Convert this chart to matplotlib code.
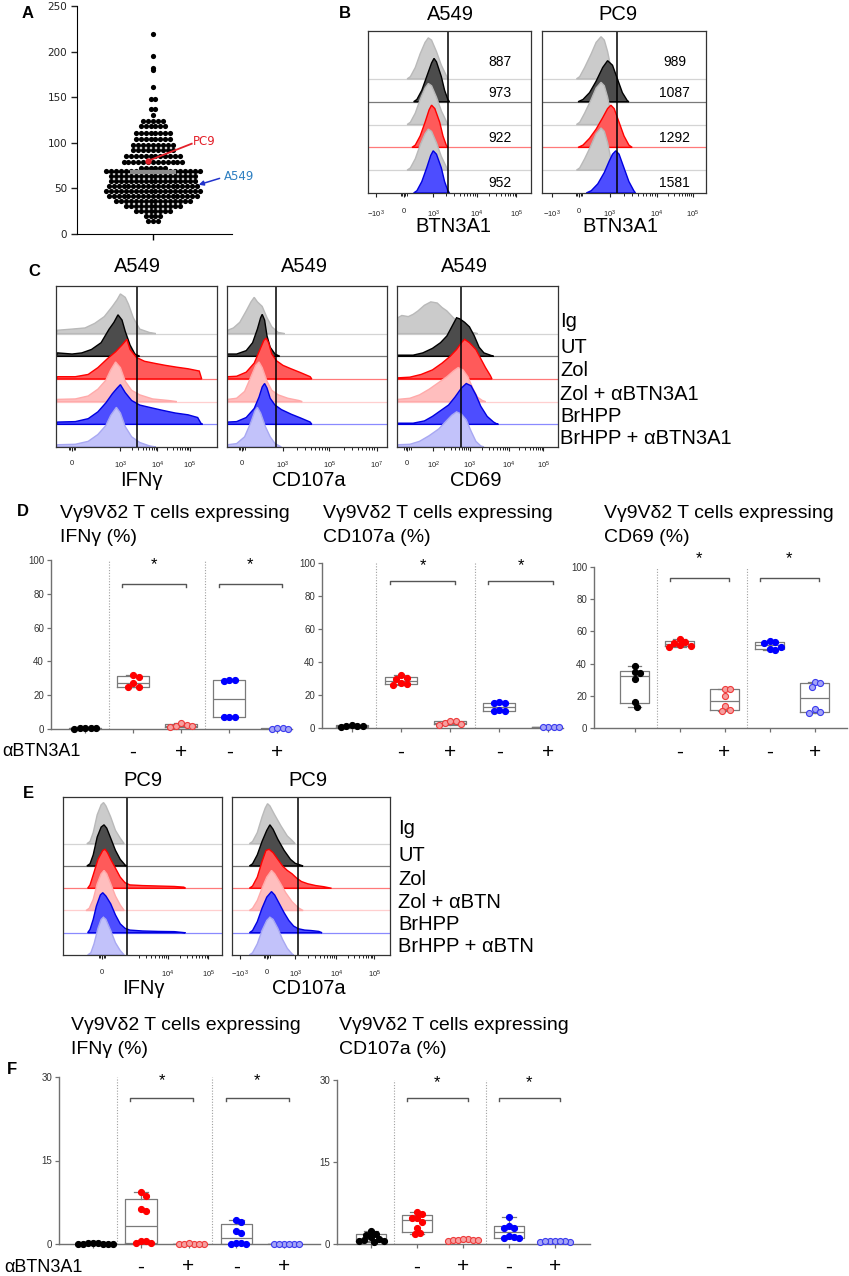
import numpy as np
import matplotlib
matplotlib.use("Agg")
import matplotlib.pyplot as plt
from matplotlib.transforms import blended_transform_factory

W, H = 849, 1276
plt.rcParams['font.family'] = ['Liberation Sans', 'DejaVu Sans']
plt.rcParams['mathtext.fontset'] = 'custom'
plt.rcParams['mathtext.rm'] = 'Liberation Sans'
plt.rcParams['mathtext.it'] = 'Liberation Sans:italic'
plt.rcParams['mathtext.bf'] = 'Liberation Sans:bold'

# ======================= DATA =======================
# Panel A: BTN3A1 expression over cell lines (row value, number of dots)
A_ROW_VALUES = [219, 195, 182, 180, 161, 148, 137, 131, 124, 118, 111, 104, 98, 92,
                86, 79, 72, 69, 64, 58, 53, 47, 42, 36, 31, 25, 20, 14]
A_ROW_COUNTS = [1, 1, 1, 1, 1, 2, 2, 1, 5, 6, 8, 8, 9, 9,
                12, 13, 6, 20, 18, 18, 19, 20, 19, 16, 12, 8, 4, 3]
A_PC9 = 80
A_A549 = 54

# Panel B: MFI values
B_A549_MFI = [887, 973, 922, 952]
B_PC9_MFI = [989, 1087, 1292, 1581]

# Histogram outlines: (x fraction of axis, height in row units)
B_A549_IG = [(0.24, 0), (0.26, 0.1), (0.29, 0.5), (0.32, 1.1), (0.35, 1.6), (0.37, 1.8), (0.39, 1.7), (0.42, 1.2), (0.45, 0.6), (0.48, 0.15), (0.49, 0)]
B_A549_UT = [(0.28, 0), (0.30, 0.1), (0.33, 0.5), (0.36, 1.1), (0.39, 1.7), (0.405, 1.9), (0.42, 1.75), (0.45, 1.1), (0.47, 0.5), (0.49, 0.1), (0.50, 0)]
B_A549_ZOL = [(0.27, 0), (0.29, 0.1), (0.32, 0.5), (0.35, 1.1), (0.375, 1.65), (0.39, 1.85), (0.41, 1.7), (0.44, 1.1), (0.46, 0.5), (0.48, 0.1), (0.49, 0)]
B_A549_BR = [(0.28, 0), (0.30, 0.1), (0.33, 0.5), (0.36, 1.1), (0.385, 1.65), (0.40, 1.85), (0.42, 1.7), (0.45, 1.1), (0.47, 0.5), (0.49, 0.1), (0.50, 0)]

B_PC9_IG = [(0.21, 0), (0.23, 0.1), (0.26, 0.5), (0.30, 1.1), (0.33, 1.6), (0.36, 1.85), (0.38, 1.7), (0.40, 1.2), (0.42, 0.5), (0.44, 0.1), (0.45, 0)]
B_PC9_UT = [(0.22, 0), (0.25, 0.1), (0.29, 0.4), (0.33, 0.9), (0.37, 1.5), (0.40, 1.8), (0.43, 1.6), (0.46, 1.0), (0.49, 0.4), (0.52, 0.05), (0.53, 0)]
B_PC9_ZOL = [(0.22, 0), (0.25, 0.1), (0.29, 0.4), (0.33, 0.8), (0.37, 1.3), (0.40, 1.7), (0.42, 1.85), (0.44, 1.7), (0.47, 1.1), (0.50, 0.5), (0.53, 0.1), (0.55, 0)]
B_PC9_BR = [(0.27, 0), (0.30, 0.1), (0.34, 0.4), (0.38, 0.9), (0.41, 1.4), (0.43, 1.7), (0.45, 1.85), (0.47, 1.7), (0.50, 1.1), (0.53, 0.5), (0.56, 0.1), (0.57, 0)]

C1_IG = [(0.0, 0), (0.01, 0.15), (0.10, 0.2), (0.18, 0.25), (0.24, 0.45), (0.30, 0.75), (0.35, 1.2), (0.38, 1.5), (0.40, 1.75), (0.43, 1.6), (0.45, 1.3), (0.48, 0.7), (0.52, 0.2), (0.58, 0.05), (0.62, 0)]
C1_UT = [(0.0, 0), (0.01, 0.15), (0.10, 0.1), (0.16, 0.15), (0.22, 0.3), (0.28, 0.6), (0.33, 1.2), (0.36, 1.5), (0.385, 1.83), (0.41, 1.6), (0.43, 1.1), (0.46, 0.5), (0.49, 0.1), (0.52, 0)]
C1_ZOL = [(0.0, 0), (0.01, 0.1), (0.12, 0.1), (0.20, 0.2), (0.26, 0.5), (0.32, 0.9), (0.37, 1.2), (0.41, 1.5), (0.44, 1.75), (0.46, 1.3), (0.50, 0.95), (0.55, 0.78), (0.62, 0.68), (0.68, 0.6), (0.75, 0.52), (0.82, 0.45), (0.89, 0.35), (0.905, 0)]
C1_ZOLA = [(0.0, 0), (0.01, 0.1), (0.12, 0.12), (0.20, 0.25), (0.26, 0.55), (0.31, 0.95), (0.34, 1.4), (0.37, 1.75), (0.40, 1.5), (0.43, 0.9), (0.47, 0.5), (0.52, 0.3), (0.60, 0.12), (0.70, 0.05), (0.75, 0)]
C1_BR = [(0.0, 0), (0.01, 0.1), (0.12, 0.12), (0.20, 0.25), (0.26, 0.55), (0.31, 0.95), (0.35, 1.35), (0.38, 1.6), (0.40, 1.75), (0.43, 1.4), (0.47, 1.05), (0.52, 0.85), (0.58, 0.75), (0.66, 0.62), (0.74, 0.5), (0.82, 0.42), (0.88, 0.3), (0.90, 0.05), (0.91, 0)]
C1_BRA = [(0.0, 0), (0.01, 0.1), (0.12, 0.12), (0.20, 0.25), (0.26, 0.55), (0.31, 0.95), (0.34, 1.4), (0.375, 1.75), (0.40, 1.5), (0.43, 0.9), (0.47, 0.45), (0.52, 0.2), (0.58, 0.05), (0.62, 0)]

C2_IG = [(0.0, 0), (0.005, 0.15), (0.04, 0.25), (0.08, 0.5), (0.12, 1.0), (0.15, 1.4), (0.17, 1.6), (0.19, 1.4), (0.22, 1.2), (0.25, 0.7), (0.28, 0.3), (0.32, 0.05), (0.36, 0)]
C2_UT = [(0.0, 0), (0.005, 0.1), (0.06, 0.1), (0.12, 0.25), (0.16, 0.6), (0.19, 1.2), (0.21, 1.7), (0.22, 1.85), (0.235, 1.6), (0.25, 0.9), (0.27, 0.4), (0.30, 0.1), (0.33, 0)]
C2_ZOL = [(0.0, 0), (0.005, 0.1), (0.06, 0.12), (0.12, 0.3), (0.17, 0.7), (0.20, 1.2), (0.23, 1.7), (0.245, 1.8), (0.26, 1.6), (0.28, 1.1), (0.31, 0.8), (0.35, 0.6), (0.40, 0.45), (0.46, 0.28), (0.52, 0.1), (0.53, 0)]
C2_ZOLA = [(0.0, 0), (0.005, 0.1), (0.06, 0.15), (0.11, 0.45), (0.15, 1.1), (0.18, 1.6), (0.20, 1.75), (0.22, 1.5), (0.25, 0.9), (0.28, 0.5), (0.32, 0.3), (0.38, 0.15), (0.45, 0.05), (0.47, 0)]
C2_BR = [(0.0, 0), (0.005, 0.1), (0.06, 0.12), (0.12, 0.3), (0.17, 0.7), (0.20, 1.2), (0.22, 1.65), (0.235, 1.8), (0.25, 1.6), (0.27, 1.15), (0.30, 0.85), (0.34, 0.65), (0.40, 0.45), (0.46, 0.28), (0.52, 0.1), (0.53, 0)]
C2_BRA = [(0.0, 0), (0.005, 0.1), (0.06, 0.15), (0.11, 0.45), (0.15, 1.1), (0.175, 1.6), (0.19, 1.75), (0.21, 1.5), (0.24, 0.9), (0.27, 0.45), (0.30, 0.15), (0.34, 0)]

C3_IG = [(0.0, 0), (0.005, 0.7), (0.03, 0.8), (0.07, 0.75), (0.10, 0.85), (0.13, 1.0), (0.17, 1.25), (0.21, 1.4), (0.25, 1.35), (0.28, 1.15), (0.31, 1.0), (0.35, 0.7), (0.39, 0.45), (0.43, 0.2), (0.47, 0.05), (0.50, 0)]
C3_UT = [(0.0, 0), (0.005, 0.05), (0.10, 0.05), (0.16, 0.15), (0.22, 0.35), (0.27, 0.6), (0.31, 0.9), (0.34, 1.3), (0.37, 1.7), (0.39, 1.65), (0.42, 1.5), (0.45, 1.3), (0.48, 0.9), (0.51, 0.4), (0.54, 0.15), (0.58, 0.05), (0.60, 0)]
C3_ZOL = [(0.0, 0), (0.005, 0.05), (0.08, 0.08), (0.15, 0.2), (0.22, 0.4), (0.28, 0.7), (0.33, 1.0), (0.37, 1.3), (0.40, 1.6), (0.42, 1.75), (0.45, 1.6), (0.49, 1.3), (0.52, 0.9), (0.55, 0.5), (0.58, 0.15), (0.59, 0)]
C3_ZOLA = [(0.0, 0), (0.005, 0.1), (0.08, 0.15), (0.14, 0.3), (0.20, 0.55), (0.26, 0.85), (0.31, 1.1), (0.35, 1.35), (0.38, 1.5), (0.41, 1.4), (0.44, 1.1), (0.47, 0.6), (0.50, 0.2), (0.53, 0.05), (0.55, 0)]
C3_BR = [(0.0, 0), (0.005, 0.05), (0.10, 0.05), (0.17, 0.15), (0.22, 0.35), (0.27, 0.6), (0.32, 0.85), (0.36, 1.2), (0.40, 1.6), (0.43, 1.8), (0.46, 1.7), (0.49, 1.3), (0.52, 0.8), (0.56, 0.35), (0.60, 0.1), (0.62, 0.02), (0.63, 0)]
C3_BRA = [(0.0, 0), (0.005, 0.1), (0.08, 0.12), (0.14, 0.25), (0.20, 0.5), (0.26, 0.8), (0.30, 1.1), (0.34, 1.4), (0.37, 1.55), (0.40, 1.45), (0.43, 1.2), (0.46, 0.7), (0.49, 0.25), (0.52, 0.05), (0.54, 0)]

E1_IG = [(0.15, 0), (0.17, 0.1), (0.19, 0.5), (0.215, 1.3), (0.24, 1.75), (0.255, 1.85), (0.27, 1.7), (0.30, 1.2), (0.33, 0.6), (0.36, 0.25), (0.385, 0)]
E1_UT = [(0.15, 0), (0.17, 0.1), (0.19, 0.5), (0.215, 1.3), (0.24, 1.75), (0.258, 1.85), (0.275, 1.7), (0.30, 1.25), (0.33, 0.7), (0.36, 0.3), (0.39, 0.05), (0.40, 0)]
E1_ZOL = [(0.155, 0), (0.17, 0.15), (0.19, 0.6), (0.22, 1.3), (0.25, 1.7), (0.265, 1.75), (0.28, 1.6), (0.30, 1.3), (0.33, 0.9), (0.36, 0.5), (0.39, 0.25), (0.42, 0.15), (0.50, 0.12), (0.60, 0.1), (0.70, 0.08), (0.76, 0.05), (0.77, 0)]
E1_ZOLA = [(0.145, 0), (0.165, 0.1), (0.19, 0.5), (0.215, 1.2), (0.24, 1.65), (0.258, 1.8), (0.275, 1.65), (0.30, 1.2), (0.33, 0.65), (0.36, 0.25), (0.385, 0)]
E1_BR = [(0.155, 0), (0.17, 0.15), (0.19, 0.6), (0.21, 1.2), (0.235, 1.7), (0.25, 1.8), (0.27, 1.65), (0.30, 1.3), (0.33, 0.8), (0.36, 0.4), (0.39, 0.2), (0.42, 0.12), (0.50, 0.08), (0.60, 0.06), (0.70, 0.05), (0.77, 0)]
E1_BRA = [(0.155, 0), (0.175, 0.1), (0.195, 0.5), (0.22, 1.2), (0.24, 1.6), (0.254, 1.7), (0.27, 1.6), (0.30, 1.1), (0.33, 0.55), (0.36, 0.2), (0.385, 0)]

E2_IG = [(0.11, 0), (0.13, 0.1), (0.16, 0.5), (0.19, 1.2), (0.21, 1.6), (0.225, 1.8), (0.24, 1.7), (0.27, 1.3), (0.31, 0.8), (0.35, 0.35), (0.38, 0.15), (0.40, 0)]
E2_UT = [(0.11, 0), (0.13, 0.1), (0.16, 0.5), (0.19, 1.1), (0.22, 1.6), (0.24, 1.85), (0.26, 1.65), (0.29, 1.2), (0.33, 0.7), (0.37, 0.3), (0.40, 0.12), (0.43, 0.05), (0.45, 0)]
E2_ZOL = [(0.11, 0), (0.13, 0.1), (0.16, 0.5), (0.19, 1.2), (0.215, 1.7), (0.235, 1.75), (0.26, 1.6), (0.29, 1.3), (0.32, 1.0), (0.35, 0.8), (0.38, 0.65), (0.41, 0.45), (0.44, 0.3), (0.48, 0.2), (0.53, 0.12), (0.58, 0.07), (0.63, 0)]
E2_ZOLA = [(0.11, 0), (0.13, 0.1), (0.16, 0.45), (0.19, 1.0), (0.22, 1.5), (0.25, 1.8), (0.27, 1.65), (0.30, 1.3), (0.34, 0.8), (0.38, 0.4), (0.42, 0.12), (0.45, 0)]
E2_BR = [(0.11, 0), (0.13, 0.1), (0.16, 0.5), (0.19, 1.1), (0.22, 1.6), (0.25, 1.85), (0.27, 1.7), (0.30, 1.3), (0.33, 0.9), (0.36, 0.55), (0.39, 0.3), (0.42, 0.18), (0.46, 0.12), (0.50, 0.1), (0.55, 0.06), (0.57, 0)]
E2_BRA = [(0.11, 0), (0.13, 0.1), (0.16, 0.5), (0.19, 1.1), (0.22, 1.55), (0.24, 1.7), (0.26, 1.6), (0.29, 1.2), (0.32, 0.7), (0.35, 0.3), (0.38, 0.05), (0.39, 0)]

# Panel D: % of Vg9Vd2 T cells (groups: UT, Zol, Zol+aBTN3A1, BrHPP, BrHPP+aBTN3A1)
D_IFNG_UT = [0.3, 0.5, 0.4, 0.6, 0.2]
D_IFNG_ZOL = [32, 31, 27, 25, 25]
D_IFNG_ZOLA = [1.2, 2.0, 2.6, 3.4, 1.6]
D_IFNG_BR = [29, 28.5, 29, 7, 7, 7]
D_IFNG_BRA = [0.2, 0.3, 0.2, 0.4]

D_CD107_UT = [1.0, 1.5, 0.8, 2.0, 1.2]
D_CD107_ZOL = [32.2, 30.6, 29.5, 27.5, 26.2, 26.8]
D_CD107_ZOLA = [2.0, 3.0, 4.0, 4.5, 2.5]
D_CD107_BR = [15.5, 15.1, 15.0, 11.0, 10.6, 10.2]
D_CD107_BRA = [0.5, 0.4, 0.6, 0.5]

D_CD69_UT = [38.5, 34.0, 34.5, 30.5, 16.0, 13.0]
D_CD69_ZOL = [55.5, 53.5, 53.0, 51.0, 50.5, 51.5]
D_CD69_ZOLA = [24.5, 24.0, 20.0, 13.5, 10.5, 11.0]
D_CD69_BR = [53.8, 53.2, 52.6, 50.5, 48.5, 49.0]
D_CD69_BRA = [28.5, 27.8, 25.5, 11.5, 10.0, 9.5]

# Panel F (PC9)
F_IFNG_UT = [0.1, 0.05, 0.0, 0.1, 0.05, 0.0, 0.1, 0.05]
F_IFNG_ZOL = [9.4, 8.7, 6.3, 6.0, 0.6, 0.1, 0.1, 0.5]
F_IFNG_ZOLA = [0.05, 0.0, 0.05, 0.1, 0.0, 0.05]
F_IFNG_BR = [4.3, 4.0, 2.3, 2.0, 0.1, 0.05, 0.05, 0.1]
F_IFNG_BRA = [0.0, 0.05, 0.0, 0.05, 0.0, 0.05]

F_CD107_UT = [2.4, 1.9, 1.7, 1.2, 1.0, 0.6, 0.5, 0.4, 0.8]
F_CD107_ZOL = [5.8, 5.5, 4.7, 4.7, 4.1, 2.9, 2.0, 1.8]
F_CD107_ZOLA = [0.6, 0.7, 0.8, 0.9, 1.0, 0.8, 0.7]
F_CD107_BR = [4.9, 3.3, 3.0, 2.9, 1.4, 1.3, 1.1, 1.1]
F_CD107_BRA = [0.4, 0.5, 0.5, 0.6, 0.4, 0.5, 0.6]

PM_LABELS = ['', '-', '+', '-', '+']
LEG_C = ['Ig', 'UT', 'Zol', 'Zol + αBTN3A1', 'BrHPP', 'BrHPP + αBTN3A1']
LEG_E = ['Ig', 'UT', 'Zol', 'Zol + αBTN', 'BrHPP', 'BrHPP + αBTN']

# ======================= FIGURE =======================
fig = plt.figure(figsize=(W / 100, H / 100), dpi=100)


def axpx(l, t, r, b):
    return fig.add_axes([l / W, 1 - b / H, (r - l) / W, (b - t) / H])


def ftext(x, y, s, **kw):
    kw.setdefault('va', 'center')
    kw.setdefault('ha', 'center')
    fig.text(x / W, 1 - y / H, s, **kw)


def letter(x, y, s):
    ftext(x, y, s, fontsize=12, fontweight='bold')


# ---------------- Panel A ----------------
axA = axpx(77, 6, 232, 234)
axA.set_xlim(-0.98, 1.02)
axA.set_ylim(0, 250)
T = axA.transData
sx = T.transform((1, 0))[0] - T.transform((0, 0))[0]
dx = 4.9 / sx
xs, ys = [], []
for v, c in zip(A_ROW_VALUES, A_ROW_COUNTS):
    offs = (np.arange(c) - (c - 1) / 2) * dx
    xs.extend(offs)
    ys.extend([v] * c)
axA.scatter(xs, ys, s=14, color='black', lw=0, zorder=3, clip_on=False)
mean_a = np.mean(ys)
axA.plot([-0.6, 0.6], [mean_a, mean_a], color='black', lw=1, zorder=2)
axA.plot([-0.3, 0.3], [mean_a, mean_a], color='#8c8c8c', lw=3, zorder=4, solid_capstyle='butt')
axA.plot([-0.07, 0.5], [A_PC9, 99], color='#e4202a', lw=1.3, zorder=6)
axA.plot([-0.07], [A_PC9], 'o', color='#e4202a', ms=3.5, zorder=6)
axA.text(0.52, 101, 'PC9', color='#e4202a', fontsize=8.5, ha='left', va='center', family='DejaVu Sans')
axA.annotate('', xy=(0.59, A_A549), xytext=(0.86, 61),
             arrowprops=dict(arrowstyle='-|>', color='#2233cc', lw=1.1, mutation_scale=7, shrinkA=0, shrinkB=0))
axA.text(0.92, 63.5, 'A549', color='#2d7fc1', fontsize=8.5, ha='left', va='center', family='DejaVu Sans')
axA.spines['top'].set_visible(False)
axA.spines['right'].set_visible(False)
axA.set_yticks([0, 50, 100, 150, 200, 250])
axA.set_xticks([0])
axA.set_xticklabels([''])
axA.tick_params(axis='y', labelsize=7.5, length=4, width=1, labelfontfamily='DejaVu Sans', pad=3, colors='#222')
axA.tick_params(axis='x', length=4, width=1)
letter(28, 14, 'A')

# ---------------- flow helpers ----------------
FC = {'ig': '#cbcbcb', 'ut': '#4c4c4c', 'zol': '#ff5a5a', 'zola': '#ffbebe', 'br': '#4d4dff', 'bra': '#c2c2fa'}
EC = {'ig': '#b9b9b9', 'ut': '#000000', 'zol': '#ff0000', 'zola': '#ffaaaa', 'br': '#0000e0', 'bra': '#a8a8f2'}
LC = {'ig': '#d4d4d4', 'ut': '#7a7a7a', 'zol': '#ff7a7a', 'zola': '#ffcfcf', 'br': '#8a8aff', 'bra': '#c4c4ff'}


def flow(box, shapes, keys, gate, ticks, labels, decades, zero, pad):
    ax = axpx(*box)
    n = len(shapes)
    ax.set_xlim(0, 1)
    ax.set_ylim(0, 7.1)
    for i, (shp, k) in enumerate(zip(shapes, keys)):
        base = n - 1 - i
        px = [p[0] for p in shp]
        py = [base + p[1] for p in shp]
        if base > 0:
            ax.axhline(base, color=LC[k], lw=0.9, zorder=2 * i + 1)
        ax.fill(px, py, facecolor=FC[k], edgecolor=EC[k], lw=1.0, zorder=2 * i + 2)
    ax.axvline(gate, color='black', lw=1.1, zorder=60)
    ax.set_yticks([])
    ax.set_xticks(ticks)
    ax.set_xticklabels(labels)
    minor = []
    for a, b in zip(decades[:-1], decades[1:]):
        minor += [a + (b - a) * np.log10(k) for k in range(2, 10)]
    minor += [zero - 0.02, zero - 0.01, zero + 0.01, zero + 0.02]
    ax.set_xticks(minor, minor=True)
    ax.tick_params(axis='x', which='major', length=3, width=0.8, labelsize=5.5, pad=pad, colors='#222')
    ax.tick_params(axis='x', which='minor', length=1.8, width=0.6)
    for s in ax.spines.values():
        s.set_linewidth(0.9)
        s.set_color('#333333')
        s.set_zorder(70)
    return ax


# ---------------- Panel B ----------------
B_KEYS = ['ig', 'ut', 'ig', 'zol', 'ig', 'br']
axB1 = flow((368, 31, 531, 193), [B_A549_IG, B_A549_UT, B_A549_IG, B_A549_ZOL, B_A549_IG, B_A549_BR], B_KEYS,
            0.49, [0.049, 0.22, 0.40, 0.67, 0.91], ['$-10^3$', '0', '$10^3$', '$10^4$', '$10^5$'],
            [0.40, 0.67, 0.91], 0.22, 8)
axB2 = flow((542, 31, 706, 193), [B_PC9_IG, B_PC9_UT, B_PC9_IG, B_PC9_ZOL, B_PC9_IG, B_PC9_BR], B_KEYS,
            0.457, [0.06, 0.225, 0.415, 0.70, 0.92], ['$-10^3$', '0', '$10^3$', '$10^4$', '$10^5$'],
            [0.415, 0.70, 0.92], 0.225, 8)
MFI_ROWS = [5.75, 4.4, 2.4, 0.45]
for ax, mfi in ((axB1, B_A549_MFI), (axB2, B_PC9_MFI)):
    for r, m in zip(MFI_ROWS, mfi):
        ax.text(0.81, r, str(m), ha='center', va='center', fontsize=10, zorder=80)
letter(345, 13, 'B')
ftext(450, 14, 'A549', fontsize=14.5)
ftext(618, 14, 'PC9', fontsize=14.5)
ftext(453, 227, 'BTN3A1', fontsize=14.5)
ftext(620, 227, 'BTN3A1', fontsize=14.5)

# ---------------- Panel C ----------------
C_KEYS = ['ig', 'ut', 'zol', 'zola', 'br', 'bra']
flow((56, 286, 217, 447), [C1_IG, C1_UT, C1_ZOL, C1_ZOLA, C1_BR, C1_BRA], C_KEYS,
     0.503, [0.10, 0.40, 0.63, 0.83], ['0', '$10^3$', '$10^4$', '$10^5$'], [0.40, 0.63, 0.83], 0.10, 6)
flow((227, 286, 387, 447), [C2_IG, C2_UT, C2_ZOL, C2_ZOLA, C2_BR, C2_BRA], C_KEYS,
     0.306, [0.093, 0.347, 0.64, 0.935], ['0', '$10^3$', '$10^5$', '$10^7$'], [0.347, 0.64, 0.935], 0.093, 6)
flow((397, 286, 558, 447), [C3_IG, C3_UT, C3_ZOL, C3_ZOLA, C3_BR, C3_BRA], C_KEYS,
     0.397, [0.064, 0.225, 0.453, 0.695, 0.908], ['0', '$10^2$', '$10^3$', '$10^4$', '$10^5$'],
     [0.225, 0.453, 0.695, 0.908], 0.064, 6)
letter(34, 272, 'C')
for x in (137, 304, 464):
    ftext(x, 267, 'A549', fontsize=14.5)
ftext(141, 480, 'IFNγ', fontsize=14.5)
ftext(309, 480, 'CD107a', fontsize=14.5)
ftext(476, 480, 'CD69', fontsize=14.5)
for yb, s in zip([327, 353, 376, 400, 422, 444], LEG_C):
    ftext(560, yb, s, fontsize=14.5, ha='left', va='baseline')

# ---------------- Panel E ----------------
flow((63, 797, 222, 955), [E1_IG, E1_UT, E1_ZOL, E1_ZOLA, E1_BR, E1_BRA], C_KEYS,
     0.40, [0.245, 0.66, 0.915], ['0', '$10^4$', '$10^5$'], [0.40, 0.66, 0.915], 0.245, 7)
flow((232, 797, 390, 955), [E2_IG, E2_UT, E2_ZOL, E2_ZOLA, E2_BR, E2_BRA], C_KEYS,
     0.42, [0.05, 0.22, 0.40, 0.66, 0.90], ['$-10^3$', '0', '$10^3$', '$10^4$', '$10^5$'],
     [0.40, 0.66, 0.90], 0.22, 7)
letter(28, 793, 'E')
ftext(143, 780, 'PC9', fontsize=14.5)
ftext(308, 780, 'PC9', fontsize=14.5)
ftext(143, 988, 'IFNγ', fontsize=14.5)
ftext(309, 988, 'CD107a', fontsize=14.5)
for yb, s in zip([834, 861, 885, 908, 930, 952], LEG_E):
    ftext(398, yb, s, fontsize=14.5, ha='left', va='baseline')

# ---------------- dot/box helpers ----------------
GCOL = [('#000000', '#000000'), ('#ff0000', '#ff0000'), ('#f6a0a0', '#ee3a3a'),
        ('#0000ff', '#0000ff'), ('#a4a4f6', '#3a3aee')]
GREY = '#7a7a7a'


def swarm(ax, x0, vals, d):
    T = ax.transData
    sxx = T.transform((1, 0))[0] - T.transform((0, 0))[0]
    yp = T.transform(np.column_stack([np.full(len(vals), float(x0)), vals]))[:, 1]
    cands = [0.0]
    for j in range(1, 40):
        cands += [j * d * 0.5, -j * d * 0.5]
    placed = []
    offs = np.zeros(len(vals))
    for idx in np.argsort(-np.asarray(vals), kind='stable'):
        for c in cands:
            if all((c - a) ** 2 + (yp[idx] - b) ** 2 >= (d * 0.999) ** 2 for a, b in placed):
                break
        placed.append((c, yp[idx]))
        offs[idx] = c / sxx
    return offs


def dotbox(box, groups, xlim, ylim, yticks, br_y, br_h, star_y, d, pm_y):
    ax = axpx(*box)
    ax.set_xlim(*xlim)
    ax.set_ylim(*ylim)
    for i, g in enumerate(groups):
        v = np.asarray(g, float)
        q1, med, q3 = np.percentile(v, [25, 50, 75], method='weibull')
        st = dict(whislo=v.min(), q1=q1, med=med, q3=q3, whishi=v.max())
        lp = dict(color=GREY, lw=0.9)
        ax.bxp([st], positions=[i], widths=0.66, capwidths=0.3, showfliers=False, manage_ticks=False,
               boxprops=lp, whiskerprops=lp, capprops=lp, medianprops=lp, zorder=3)
        offs = swarm(ax, i, v, d)
        fc, ec = GCOL[i]
        ax.scatter(i + offs, v, s=19, facecolor=fc, edgecolor=ec, lw=0.8, zorder=5, clip_on=False)
    for xd in (0.5, 2.5):
        ax.axvline(xd, color='#a0a0a0', lw=0.8, ls=(0, (1, 1.5)), zorder=1)
    for a in (1, 3):
        x1, x2 = a - 0.22, a + 1.1
        ax.plot([x1, x1, x2, x2], [br_y - br_h, br_y, br_y, br_y - br_h], color='#555555', lw=1, clip_on=False)
        ax.text((x1 + x2) / 2, star_y, '*', ha='center', va='center', fontsize=12, clip_on=False)
    ax.spines['top'].set_visible(False)
    ax.spines['right'].set_visible(False)
    for s in ('left', 'bottom'):
        ax.spines[s].set_color('#707070')
        ax.spines[s].set_linewidth(1)
    ax.set_yticks(yticks)
    ax.set_xticks(range(5))
    ax.tick_params(axis='x', labelbottom=False, length=3, width=0.9, color='#707070')
    ax.tick_params(axis='y', labelsize=7, length=3, width=0.9, color='#707070', pad=2, labelcolor='#333333')
    tr = blended_transform_factory(ax.transData, fig.transFigure)
    for i, s in enumerate(PM_LABELS):
        if s:
            ax.text(i, 1 - pm_y / H, s, transform=tr, ha='center', va='center', fontsize=15)
    return ax


# ---------------- Panel D ----------------
dotbox((51, 560, 292, 729), [D_IFNG_UT, D_IFNG_ZOL, D_IFNG_ZOLA, D_IFNG_BR, D_IFNG_BRA],
       (-0.708, 4.31), (0, 100), [0, 20, 40, 60, 80, 100], 86, 1.8, 97.5, 5.5, 752)
dotbox((322, 563, 563, 728), [D_CD107_UT, D_CD107_ZOL, D_CD107_ZOLA, D_CD107_BR, D_CD107_BRA],
       (-0.61, 4.3), (0, 100), [0, 20, 40, 60, 80, 100], 89, 1.8, 98.5, 5.5, 752)
dotbox((594, 567, 847, 728), [D_CD69_UT, D_CD69_ZOL, D_CD69_ZOLA, D_CD69_BR, D_CD69_BRA],
       (-0.9, 4.72), (0, 100), [0, 20, 40, 60, 80, 100], 93, 1.8, 105, 5.5, 752)
letter(23, 512, 'D')
for x, l2 in ((60, 'IFNγ (%)'), (323, 'CD107a (%)'), (604, 'CD69 (%)')):
    ftext(x, 513, 'Vγ9Vδ2 T cells expressing', fontsize=14, ha='left')
    ftext(x, 538, l2, fontsize=14, ha='left')
ftext(2, 752, 'αBTN3A1', fontsize=13, ha='left')

# ---------------- Panel F ----------------
dotbox((59, 1077, 320, 1244), [F_IFNG_UT, F_IFNG_ZOL, F_IFNG_ZOLA, F_IFNG_BR, F_IFNG_BRA],
       (-0.71, 4.75), (0, 30), [0, 15, 30], 26.2, 0.55, 29.3, 5, 1267)
dotbox((337, 1080, 590, 1244), [F_CD107_UT, F_CD107_ZOL, F_CD107_ZOLA, F_CD107_BR, F_CD107_BRA],
       (-0.74, 4.76), (0, 30), [0, 15, 30], 26.7, 0.55, 29.6, 5, 1267)
letter(12, 1070, 'F')
for x, l2 in ((71, 'IFNγ (%)'), (339, 'CD107a (%)')):
    ftext(x, 1025, 'Vγ9Vδ2 T cells expressing', fontsize=14, ha='left')
    ftext(x, 1050, l2, fontsize=14, ha='left')
ftext(4, 1267, 'αBTN3A1', fontsize=13, ha='left')

fig.savefig('out.png', dpi=100, facecolor='white')
